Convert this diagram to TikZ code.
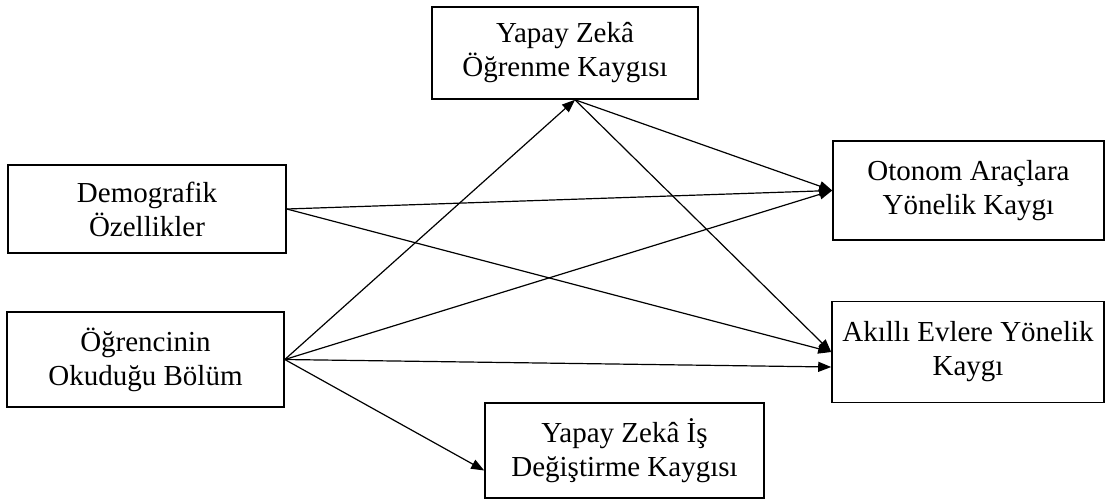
\documentclass[tikz,border=0pt]{standalone}
\usepackage{fontspec}
\setmainfont{Liberation Serif}
\usetikzlibrary{arrows.meta,positioning}

\begin{document}
\begin{tikzpicture}[x=1pt, y=-1pt,
  every node/.style={font=\fontsize{29}{34}\selectfont},
  box/.style={rectangle, draw, line width=1.6pt, align=center, inner sep=0pt},
  arr/.style={-{Triangle[length=13pt, width=10pt]}, line width=1.2pt},
]
\useasboundingbox (0,0) rectangle (1107,500);

% Left: predictors
\node[box, minimum width=278pt, minimum height=88pt] (demo) at (147,209) {Demografik\\Özellikler};
\node[box, minimum width=277pt, minimum height=95pt] (bolum) at (145.5,359.5) {Öğrencinin\\Okuduğu Bölüm};

% Middle: AI anxiety
\node[box, minimum width=266pt, minimum height=92pt] (ogrenme) at (565,53) {Yapay Zekâ\\Öğrenme Kaygısı};
\node[box, minimum width=279pt, minimum height=95pt] (isdeg) at (624.5,450.5) {Yapay Zekâ İş\\Değiştirme Kaygısı};

% Right: outcomes
\node[box, minimum width=271pt, minimum height=99pt] (otonom) at (968.5,190.5) {Otonom Araçlara\\Yönelik Kaygı};
\node[box, minimum width=272pt, minimum height=101pt] (akilli) at (968,352) {Akıllı Evlere Yönelik\\Kaygı};

\coordinate (ogrp) at ([xshift=10pt]ogrenme.south);

% Paths
\draw[arr] (demo.east) -- (otonom.west);
\draw[arr] (demo.east) -- (akilli.west);
\draw[arr] (bolum.east) -- (ogrp);
\draw[arr] (bolum.east) -- (otonom.west);
\draw[arr] (bolum.east) -- ([yshift=-15pt]akilli.west);
\draw[arr] (bolum.east) -- ([yshift=-20pt]isdeg.west);
\draw[arr] (ogrp) -- (otonom.west);
\draw[arr] (ogrp) -- (akilli.west);

\end{tikzpicture}
\end{document}
